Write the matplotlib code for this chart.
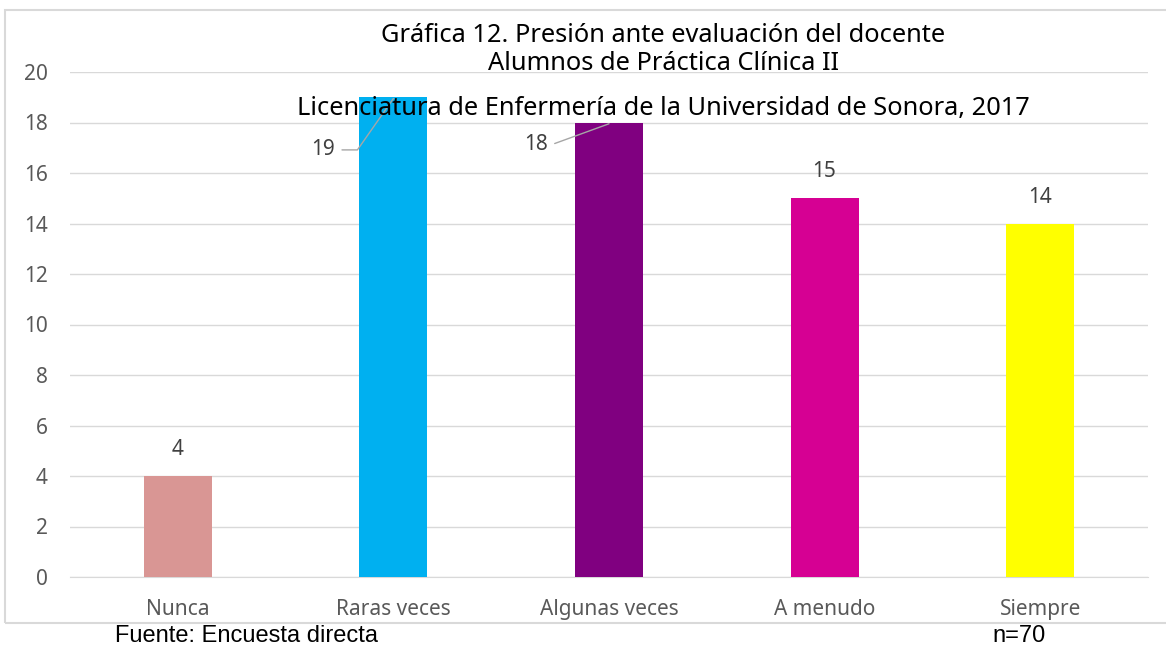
import matplotlib as mpl
mpl.use('Agg')
import matplotlib.pyplot as plt
from matplotlib.patches import Rectangle

categorias = ['Nunca', 'Raras veces', 'Algunas veces', 'A menudo', 'Siempre']
valores = [4, 19, 18, 15, 14]
colores = ['#D99694', '#00B0F0', '#800080', '#D60093', '#FFFF00']
yticks = list(range(0, 21, 2))

titulo = ['Gráfica 12. Presión ante evaluación del docente',
          'Alumnos de Práctica Clínica II',
          'Licenciatura de Enfermería de la Universidad de Sonora, 2017']

plt.rcParams['font.family'] = ['Noto Sans', 'DejaVu Sans']

fig = plt.figure(figsize=(11.66, 6.49), dpi=100)
ax = fig.add_axes([70 / 1166, 72 / 649, 1078 / 1166, 505 / 649])

xs = range(len(categorias))
ax.bar(xs, valores, width=0.315, color=colores, zorder=3)
ax.set_xlim(-0.5, len(categorias) - 0.5)
ax.set_ylim(0, 20)
ax.set_yticks(yticks)
ax.set_xticks(list(xs))
ax.set_xticklabels(categorias)
ax.grid(axis='y', color='#D9D9D9', linewidth=1, zorder=0)
ax.tick_params(axis='both', length=0, labelcolor='#595959', labelsize=15)
ax.tick_params(axis='x', pad=16)
ax.tick_params(axis='y', pad=16)
for s in ['top', 'right', 'left']:
    ax.spines[s].set_visible(False)
ax.spines['bottom'].set_color('#D9D9D9')

# etiquetas de datos; las dos altas se movieron con linea guia
for i, v in enumerate(valores):
    if i == 1:
        ax.annotate(str(v), xy=(i, v - 0.05), xytext=(-42, -37),
                    textcoords='offset points', ha='right', va='center',
                    fontsize=15, color='#404040',
                    arrowprops=dict(arrowstyle='-', color='#A6A6A6', lw=1,
                                    connectionstyle='angle,angleA=0,angleB=55,rad=0',
                                    shrinkA=3, shrinkB=0))
    elif i == 2:
        ax.annotate(str(v), xy=(i, v - 0.05), xytext=(-44, -15),
                    textcoords='offset points', ha='right', va='center',
                    fontsize=15, color='#404040',
                    arrowprops=dict(arrowstyle='-', color='#A6A6A6', lw=1,
                                    connectionstyle='angle,angleA=0,angleB=20,rad=0',
                                    shrinkA=3, shrinkB=0))
    else:
        ax.annotate(str(v), xy=(i, v), xytext=(0, 19),
                    textcoords='offset points', ha='center', va='center',
                    fontsize=15, color='#404040')

fig.text(663 / 1166, 1 - 35 / 649, titulo[0], ha='center', va='center', fontsize=18.3)
fig.text(663 / 1166, 1 - 63 / 649, titulo[1], ha='center', va='center', fontsize=18.3)
fig.text(663 / 1166, 1 - 108 / 649, titulo[2], ha='center', va='center', fontsize=18.3)

# marco del grafico (se sale por la derecha como en la imagen original)
fig.patches.append(Rectangle((5 / 1166, 1 - 623 / 649), 1180 / 1166, 613 / 649,
                             transform=fig.transFigure, fill=False,
                             edgecolor='#D9D9D9', linewidth=1.5))

fig.text(115 / 1166, 1 - 636 / 649, 'Fuente: Encuesta directa', ha='left',
         va='center', fontsize=17, family='Liberation Sans')
fig.text(992 / 1166, 1 - 636 / 649, 'n=70', ha='left', va='center',
         fontsize=17, family='Liberation Sans')

fig.savefig('out.png', dpi=100)
